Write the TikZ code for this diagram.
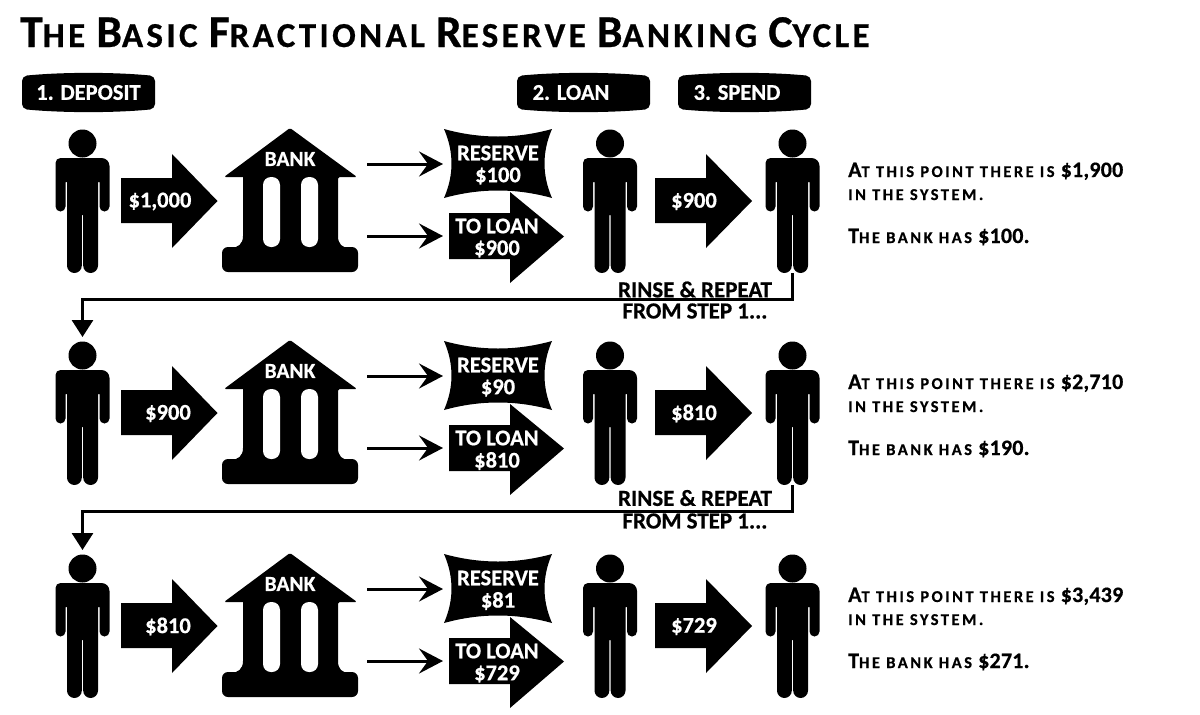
\documentclass[tikz,border=0pt]{standalone}
\usepackage{fontspec}
\setmainfont{Carlito}[BoldFeatures={FakeBold=0.6}]
\usetikzlibrary{arrows.meta,calc}
\newcommand{\TBig}[1]{{\fontsize{45.5}{45.5}\selectfont #1}}
\newcommand{\NBig}[1]{{\fontsize{22}{22}\selectfont #1}}
\tikzset{
  x=1pt,y=1pt,
  inktext/.style={text=black,font=\bfseries\fontsize{23}{23}\selectfont,inner sep=0pt},
  whitetext/.style={text=white,font=\bfseries\fontsize{22.5}{22.5}\selectfont,inner sep=0pt},
  sidetext/.style={text=black,anchor=base west,inner sep=0pt,font=\bfseries\fontsize{16.5}{16.5}\selectfont\addfontfeature{LetterSpace=15}},
  thinarrow/.style={line width=3pt,-{Stealth[length=24pt,width=25pt,inset=9pt]}},
  loopline/.style={line width=3pt,-{Triangle[length=17pt,width=21pt]},shorten >=4pt},
  person/.pic={
    \fill (0,-143.5) circle (14);
    \fill[rounded corners=5] (-27,-180) -- (-27,-158) [rounded corners=8] -- (27,-158) -- (27,-180)
      [rounded corners=5] -- (27,-211.5) -- (17,-211.5) [sharp corners] -- (17,-182) -- (15.5,-182)
      [rounded corners=7.4] -- (15.5,-273) -- (.7,-273) [sharp corners] -- (.7,-215) -- (-.7,-215)
      [rounded corners=7.4] -- (-.7,-273) -- (-15.5,-273) [sharp corners] -- (-15.5,-182) -- (-17,-182)
      [rounded corners=5] -- (-17,-211.5) -- (-27,-211.5) -- cycle;
    \coordinate (-foot) at (0,-273);
    \coordinate (-top) at (0,-129);
  },
  bank/.pic={
    \fill[rounded corners=1.5] (290,-128) -- (357,-177) -- (338,-177) [sharp corners]
      -- (338,-236) .. controls (338,-244) and (342,-248) .. (350,-248)
      -- (230,-248) .. controls (238,-248) and (243,-244) .. (243,-236)
      -- (243,-177) [rounded corners=1.5] -- (224,-177) -- cycle;
    \fill[rounded corners=6] (222,-247) rectangle (358,-272);
    \fill[white,rounded corners=8] (263,-177) rectangle (280,-247);
    \fill[white,rounded corners=8] (301,-177) rectangle (318,-247);
  },
}
\begin{document}
\begin{tikzpicture}[x=1pt,y=1pt]
\useasboundingbox (0,0) rectangle (1200,-715);
\node[anchor=base west,inner sep=0pt,font=\bfseries\fontsize{35}{35}\selectfont\addfontfeature{LetterSpace=9.5}] (title) at (20,-47)
  {\TBig{T}HE \TBig{B}ASIC \TBig{F}RACTIONAL \TBig{R}ESERVE \TBig{B}ANKING \TBig{C}YCLE};

% step headers
\foreach \nm/\xa/\xb/\tx/\lab in {h1/22/155/88.5/1. DEPOSIT,h2/517/650/571/2. LOAN,h3/678/811/737/3. SPEND}{
  \fill[rounded corners=5] (\xa,-76) .. controls (\xa+40,-72) and (\xb-40,-72) .. (\xb,-76)
     -- (\xb,-109) .. controls (\xb-40,-113) and (\xa+40,-113) .. (\xa,-109) -- cycle;
  \node[whitetext] (\nm) at (\tx,-92.5) {\lab};
}

\foreach \r/\off/\da/\dax/\res/\lo/\spd/\ta/\tb in {
  1/0/{\$1,000}/160/{\$100}/{\$900}/{\$900}/{\$1,900}/{\$100},
  2/212/{\$900}/168/{\$90}/{\$810}/{\$810}/{\$2,710}/{\$190},
  3/425/{\$810}/168/{\$81}/{\$729}/{\$729}/{\$3,439}/{\$271}}{
 \begin{scope}[yshift=-\off pt]
  \pic (r\r p1) at (82.5,0) {person};
  \pic (r\r p2) at (610,0) {person};
  \pic (r\r p3) at (792.5,0) {person};
  \pic (r\r bank) at (0,0) {bank};
  \node[whitetext,font=\bfseries\fontsize{21.5}{21.5}\selectfont] (r\r banklabel) at (290,-159) {BANK};
  % deposit arrow
  \fill (121,-178) -- (172,-178) -- (172,-154) -- (217.5,-201) -- (172,-248) -- (172,-223) -- (121,-223) -- cycle;
  \node[whitetext] (r\r dep) at (\dax,-201.5) {\da};
  % spend arrow
  \fill (655,-178) -- (706,-178) -- (706,-154) -- (752,-201) -- (706,-248) -- (706,-223) -- (655,-223) -- cycle;
  \node[whitetext] (r\r spend) at (694,-201.5) {\spd};
  % reserve
  \fill (444,-129) .. controls (480,-139) and (516,-139) .. (552,-129)
        .. controls (542,-152) and (542,-175) .. (552,-198)
        .. controls (516,-188) and (480,-188) .. (444,-198)
        .. controls (454,-175) and (454,-152) .. (444,-129) -- cycle;
  \node[whitetext] (r\r resA) at (498,-153) {RESERVE};
  \node[whitetext] (r\r resB) at (498,-176) {\res};
  % to loan
  \fill (449,-213) -- (510,-213) -- (510,-192) -- (564,-236.5) -- (510,-283) -- (510,-259) -- (449,-259) -- cycle;
  \node[whitetext] (r\r loA) at (497,-226) {TO LOAN};
  \node[whitetext] (r\r loB) at (497,-249) {\lo};
  % bank to reserve / loan
  \coordinate (r\r outA) at (367,-164);
  \coordinate (r\r inA) at (443,-164);
  \coordinate (r\r outB) at (367,-236);
  \coordinate (r\r inB) at (443,-236);
  \draw[thinarrow] (r\r outA) -- (r\r inA);
  \draw[thinarrow] (r\r outB) -- (r\r inB);
  % side notes
  \node[sidetext] (r\r sa) at (848,-177) {\NBig{A}T THIS POINT THERE IS \NBig{\addfontfeature{LetterSpace=1}\ta}};
  \node[sidetext] (r\r sb) at (848,-200) {IN THE SYSTEM.};
  \node[sidetext] (r\r sc) at (848,-243) {\NBig{T}HE BANK HAS \NBig{\addfontfeature{LetterSpace=1}\tb.}};
 \end{scope}
}

% rinse & repeat
\node[inktext] (rinseA) at (695,-289.5) {RINSE \& REPEAT};
\node[inktext] (rinseB) at (695,-311) {FROM STEP 1...};
\node[inktext] (rinseC) at (695,-498) {RINSE \& REPEAT};
\node[inktext] (rinseD) at (695,-521) {FROM STEP 1...};

\coordinate (bendA) at (0,-299);
\coordinate (bendB) at (0,-511);
\draw[loopline] (r1p3-foot) -- (r1p3-foot |- bendA) -| (r2p1-top);
\draw[loopline] (r2p3-foot) -- (r2p3-foot |- bendB) -| (r3p1-top);
\end{tikzpicture}
\end{document}
